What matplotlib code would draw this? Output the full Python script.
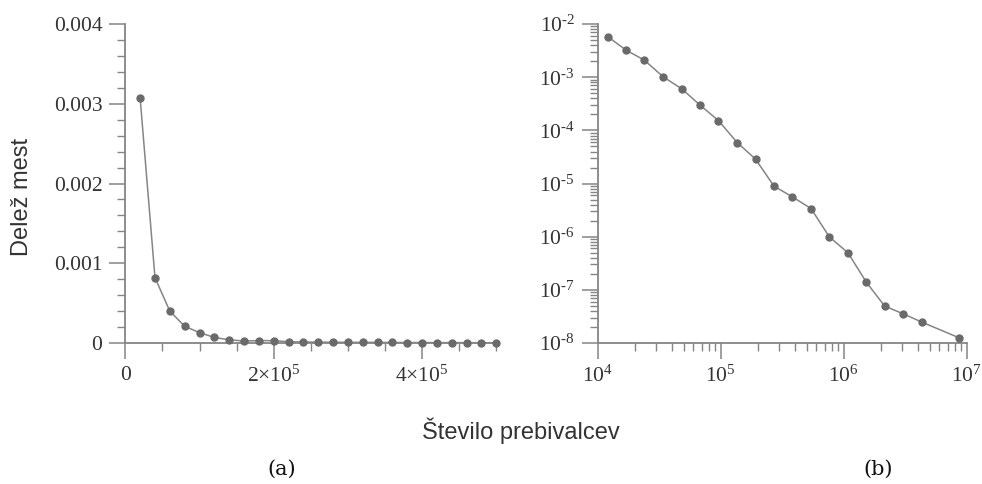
import numpy as np
import matplotlib.pyplot as plt
from matplotlib.ticker import MultipleLocator, FixedLocator, LogLocator, FixedFormatter, NullFormatter

plt.rcParams["font.family"] = "Liberation Serif"
plt.rcParams["mathtext.fontset"] = "custom"
plt.rcParams["mathtext.rm"] = "Liberation Serif"
plt.rcParams["mathtext.default"] = "regular"

# =====================================================
# DATA
# =====================================================

# (a) linear bins of 2x10^4 inhabitants
lin_size = np.arange(1, 26) * 2e4
lin_share = [
    3.07e-3, 8.2e-4, 4.0e-4, 2.1e-4, 1.3e-4, 7.0e-5, 4.0e-5, 2.5e-5,
    3.0e-5, 3.0e-5, 1.6e-5, 1.3e-5, 1.1e-5, 1.0e-5, 9.0e-6, 8.0e-6,
    8.0e-6, 7.0e-6, 6.0e-6, 6.0e-6, 5.0e-6, 5.0e-6, 4.0e-6, 4.0e-6,
    3.0e-6,
]

# (b) logarithmic bins
log_size = [
    1.21e4, 1.70e4, 2.39e4, 3.40e4, 4.82e4, 6.79e4, 9.57e4, 1.36e5,
    1.92e5, 2.71e5, 3.83e5, 5.42e5, 7.64e5, 1.08e6, 1.53e6, 2.15e6,
    3.03e6, 4.30e6, 8.61e6,
]
log_share = [
    5.77e-3, 3.23e-3, 2.10e-3, 1.02e-3, 6.05e-4, 2.98e-4, 1.53e-4, 5.9e-5,
    2.87e-5, 8.9e-6, 5.6e-6, 3.38e-6, 9.9e-7, 5.0e-7, 1.38e-7, 4.96e-8,
    3.55e-8, 2.48e-8, 1.26e-8,
]

lin_ticks = [0, 2e5, 4e5]
lin_tick_labels = ["0", "2×10$^5$", "4×10$^5$"]
lin_yticks = [0, 0.001, 0.002, 0.003, 0.004]
lin_ytick_labels = ["0", "0.001", "0.002", "0.003", "0.004"]

log_xticks = [1e4, 1e5, 1e6, 1e7]
log_xtick_labels = ["10$^4$", "10$^5$", "10$^6$", "10$^7$"]
log_yticks = [1e-8, 1e-7, 1e-6, 1e-5, 1e-4, 1e-3, 1e-2]
log_ytick_labels = ["10$^{\\text{-}8}$", "10$^{\\text{-}7}$", "10$^{\\text{-}6}$",
                    "10$^{\\text{-}5}$", "10$^{\\text{-}4}$", "10$^{\\text{-}3}$",
                    "10$^{\\text{-}2}$"]

LINE_COLOR = "#858585"
MARK_COLOR = "#6a6a6a"
TEXT_COLOR = "#333333"

# =====================================================
# FIGURE
# =====================================================

fig = plt.figure(figsize=(9.82, 4.84), dpi=100)
ax_a = fig.add_axes([0.1276, 0.2913, 0.3778, 0.659])
ax_b = fig.add_axes([0.6087, 0.2913, 0.3758, 0.659])


def style_axes(ax):
    for side in ("top", "right"):
        ax.spines[side].set_visible(False)
    for side in ("left", "bottom"):
        ax.spines[side].set_color(LINE_COLOR)
        ax.spines[side].set_linewidth(1.3)
    ax.tick_params(which="major", direction="out", length=11.5, width=1.1,
                   color=LINE_COLOR, labelsize=15.5, labelcolor=TEXT_COLOR, pad=5)
    ax.tick_params(which="minor", direction="out", length=5.5, width=1.0,
                   color=LINE_COLOR)


# (a) linear scale
ax_a.plot(lin_size, lin_share, "-o", color=LINE_COLOR, lw=1.1,
          markersize=5, markerfacecolor=MARK_COLOR, markeredgecolor=MARK_COLOR,
          clip_on=False, zorder=3)
ax_a.set_xlim(0, 5e5)
ax_a.set_ylim(0, 0.004)
ax_a.xaxis.set_major_locator(FixedLocator(lin_ticks))
ax_a.xaxis.set_major_formatter(FixedFormatter(lin_tick_labels))
ax_a.xaxis.set_minor_locator(MultipleLocator(5e4))
ax_a.yaxis.set_major_locator(FixedLocator(lin_yticks))
ax_a.yaxis.set_major_formatter(FixedFormatter(lin_ytick_labels))
ax_a.yaxis.set_minor_locator(MultipleLocator(0.0002))
style_axes(ax_a)

# (b) log-log scale
ax_b.plot(log_size, log_share, "-o", color=LINE_COLOR, lw=1.1,
          markersize=5, markerfacecolor=MARK_COLOR, markeredgecolor=MARK_COLOR,
          clip_on=False, zorder=3)
ax_b.set_xscale("log")
ax_b.set_yscale("log")
ax_b.set_xlim(1e4, 1e7)
ax_b.set_ylim(1e-8, 1e-2)
ax_b.xaxis.set_major_locator(FixedLocator(log_xticks))
ax_b.xaxis.set_major_formatter(FixedFormatter(log_xtick_labels))
ax_b.xaxis.set_minor_locator(LogLocator(base=10, subs=np.arange(2, 10), numticks=20))
ax_b.xaxis.set_minor_formatter(NullFormatter())
ax_b.yaxis.set_major_locator(FixedLocator(log_yticks))
ax_b.yaxis.set_major_formatter(FixedFormatter(log_ytick_labels))
ax_b.yaxis.set_minor_locator(LogLocator(base=10, subs=np.arange(2, 10), numticks=20))
ax_b.yaxis.set_minor_formatter(NullFormatter())
style_axes(ax_b)

# labels
fig.text(0.0224, 0.593, "Delež mest", rotation=90, ha="center", va="center",
         fontsize=17, family="Liberation Sans", color=TEXT_COLOR)
fig.text(0.530, 0.093, "Število prebivalcev", ha="center", va="baseline",
         fontsize=17, family="Liberation Sans", color=TEXT_COLOR)
fig.text(0.287, 0.031, "(a)", ha="center", va="center",
         fontsize=15, family="DejaVu Serif", color="#111111")
fig.text(0.894, 0.031, "(b)", ha="center", va="center",
         fontsize=15, family="DejaVu Serif", color="#111111")

fig.savefig("out.png", dpi=100)
